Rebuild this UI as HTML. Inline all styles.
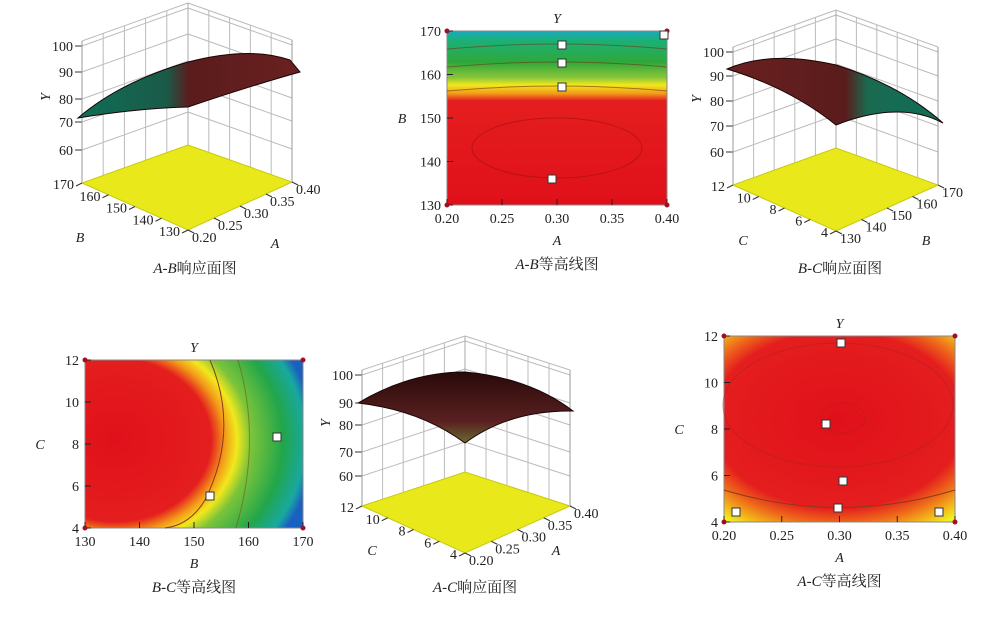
<!DOCTYPE html>
<html><head><meta charset="utf-8"><style>
html,body{margin:0;padding:0;background:#fff;}
svg text{font-family:"Liberation Serif","Noto Serif CJK SC",serif;fill:#222;}
</style></head><body>
<svg id="s" width="1000" height="613" viewBox="0 0 1000 613" xmlns="http://www.w3.org/2000/svg">
<defs>
<linearGradient id="g2" x1="0" y1="0" x2="0" y2="1">
<stop offset="0" stop-color="#1aa9c0"/><stop offset="0.05" stop-color="#1ab07a"/>
<stop offset="0.18" stop-color="#2fa83a"/><stop offset="0.27" stop-color="#8cc63a"/>
<stop offset="0.31" stop-color="#f2e81c"/><stop offset="0.36" stop-color="#f29a1a"/>
<stop offset="0.40" stop-color="#e41e1e"/><stop offset="1" stop-color="#e0101a"/>
</linearGradient>
<radialGradient id="g4" gradientUnits="userSpaceOnUse" cx="115" cy="440" r="200" gradientTransform="translate(115 440) scale(1 0.85) translate(-115 -440)">
<stop offset="0" stop-color="#e0101a"/><stop offset="0.48" stop-color="#e41e1e"/>
<stop offset="0.55" stop-color="#f39a1a"/><stop offset="0.61" stop-color="#f2e81c"/>
<stop offset="0.68" stop-color="#7cc43a"/><stop offset="0.84" stop-color="#22a64a"/>
<stop offset="0.95" stop-color="#18a8a0"/><stop offset="1" stop-color="#1a60c0"/>
</radialGradient>
<radialGradient id="g6" gradientUnits="userSpaceOnUse" cx="838" cy="420" r="180" gradientTransform="translate(838 420) scale(1 0.7) translate(-838 -420)">
<stop offset="0" stop-color="#e0101a"/><stop offset="0.7" stop-color="#e41e1e"/>
<stop offset="0.82" stop-color="#ee6a1a"/><stop offset="0.92" stop-color="#f3b41a"/>
<stop offset="1" stop-color="#eeee20"/>
</radialGradient>
<linearGradient id="s1" x1="0" y1="0" x2="1" y2="0">
<stop offset="0" stop-color="#0e6e58"/><stop offset="0.4" stop-color="#1a5a48"/><stop offset="0.5" stop-color="#5a1c1c"/><stop offset="1" stop-color="#6a2020"/>
</linearGradient>
<linearGradient id="s3" x1="0" y1="0" x2="1" y2="0">
<stop offset="0" stop-color="#6a2020"/><stop offset="0.55" stop-color="#5a1c1c"/><stop offset="0.65" stop-color="#1a6a50"/><stop offset="1" stop-color="#0e6e58"/>
</linearGradient>
<linearGradient id="s5" x1="0" y1="0" x2="0" y2="1">
<stop offset="0" stop-color="#2a0a0a"/><stop offset="0.7" stop-color="#5a2020"/><stop offset="1" stop-color="#6a6a30"/>
</linearGradient>
<clipPath id="c6"><rect x="724" y="336" width="231" height="186"/></clipPath>
</defs>
<g id="root"></g>
</svg>
<script>
var NS="http://www.w3.org/2000/svg",root=document.getElementById('root');
function el(t,a,txt){var e=document.createElementNS(NS,t);for(var k in a)e.setAttribute(k,a[k]);if(txt!=null)e.textContent=txt;root.appendChild(e);return e;}
function line(x1,y1,x2,y2,c,w){el('line',{x1:x1,y1:y1,x2:x2,y2:y2,stroke:c||'#bbb','stroke-width':w||1});}
function txt(x,y,s,o){o=o||{};var a={x:x,y:y,'font-size':o.fs||14,'text-anchor':o.a||'middle'};if(o.it)a['font-style']='italic';if(o.tr)a.transform=o.tr;el('text',a,s);}
function lerp(p,q,t){return [p[0]+(q[0]-p[0])*t,p[1]+(q[1]-p[1])*t];}
function box(Pl,Pf,Pr,Pb,H,zoffs,zlab,lt,rt,surf,sfill){
  var n=5;
  for(var i=0;i<=n;i++){var a=lerp(Pl,Pb,i/n);line(a[0],a[1],a[0],a[1]-H);var b=lerp(Pb,Pr,i/n);line(b[0],b[1],b[0],b[1]-H);}
  for(var j=0;j<zoffs.length;j++){var z=zoffs[j];line(Pl[0],Pl[1]-z,Pb[0],Pb[1]-z);line(Pb[0],Pb[1]-z,Pr[0],Pr[1]-z);
    line(Pl[0]-7,Pl[1]-z,Pl[0],Pl[1]-z,'#333');txt(Pl[0]-9,Pl[1]-z+5,zlab[j],{a:'end'});}
  line(Pl[0],Pl[1]-H,Pb[0],Pb[1]-H);line(Pb[0],Pb[1]-H,Pr[0],Pr[1]-H);
  line(Pl[0],Pl[1],Pl[0],Pl[1]-H,'#999');line(Pr[0],Pr[1],Pr[0],Pr[1]-H,'#999');line(Pf[0],Pf[1],Pf[0],Pb[1]-H,'#aaa');
  el('polygon',{points:[Pl,Pf,Pr,Pb].join(' '),fill:'#e8e81a',stroke:'#c8c810'});
  for(var i=0;i<lt.length;i++){var p=lerp(Pl,Pf,i/(lt.length-1));line(p[0],p[1],p[0]-6,p[1]+3,'#333');txt(p[0]-8,p[1]+6,lt[i],{a:'end'});}
  for(var i=0;i<rt.length;i++){var p=lerp(Pf,Pr,i/(rt.length-1));line(p[0],p[1],p[0]+6,p[1]+3,'#333');txt(p[0]+4,p[1]+12,rt[i],{a:'start'});}
  el('path',{d:surf,fill:sfill,stroke:'#1a0505','stroke-width':1});
  txt(Pl[0]-37,(Pl[1]-zoffs[2])+3,'Y',{it:1,tr:'rotate(-90 '+(Pl[0]-37)+' '+(Pl[1]-zoffs[2]-2)+')'});
}
function cap(x,y,a,b,rest){var t=el('text',{x:x,y:y,'font-size':15,'text-anchor':'middle'});
 var s1=document.createElementNS(NS,'tspan');s1.setAttribute('font-style','italic');s1.textContent=a+'-'+b;t.appendChild(s1);
 var s2=document.createElementNS(NS,'tspan');s2.textContent=rest;t.appendChild(s2);}
box([82,183],[188,230],[292,182],[188,145],142,[33,61,84,111,137],['60','70','80','90','100'],['170','160','150','140','130'],['0.20','0.25','0.30','0.35','0.40'],
 'M78,118 Q120,82 188,62 Q250,46 290,60 L300,72 Q250,86 188,107 Q140,108 78,118 Z','url(#s1)');
txt(80,242,'B',{it:1});txt(275,248,'A',{it:1});
cap(195,273,'A','B','响应面图');
box([733,185],[836,231],[938,185],[836,148],138,[33,59,84,109,133],['60','70','80','90','100'],['12','10','8','6','4'],['130','140','150','160','170'],
 'M727,69 Q770,50 836,65 Q900,85 943,123 Q900,100 836,125 Q790,88 727,69 Z','url(#s3)');
txt(743,245,'C',{it:1});txt(926,245,'B',{it:1});
cap(840,273,'B','C','响应面图');
box([362,506],[465,553],[570,506],[465,472],136,[30,54,81,103,131],['60','70','80','90','100'],['12','10','8','6','4'],['0.20','0.25','0.30','0.35','0.40'],
 'M358,403 Q410,372 465,372 Q530,378 573,411 Q510,410 465,443 Q420,410 358,403 Z','url(#s5)');
txt(372,555,'C',{it:1});txt(556,555,'A',{it:1});
cap(475,592,'A','C','响应面图');
function contour(x0,y0,x1,y1,fill,yt,xt,yl,xl,a,b){
  el('rect',{x:x0,y:y0,width:x1-x0,height:y1-y0,fill:fill,stroke:'#888'});
  for(var i=0;i<yt.length;i++){var y=y0+(y1-y0)*i/(yt.length-1);line(x0,y,x0+6,y,'#222');txt(x0-6,y+5,yt[i],{a:'end'});}
  for(var i=0;i<xt.length;i++){var x=x0+(x1-x0)*i/(xt.length-1);line(x,y1,x,y1-6,'#222');txt(x,y1+18,xt[i]);}
  [[x0,y0],[x1,y0],[x0,y1],[x1,y1]].forEach(function(p){el('circle',{cx:p[0],cy:p[1],r:2.5,fill:'#a01020'});});
  txt((x0+x1)/2,y0-8,'Y',{it:1});
  txt(x0-45,(y0+y1)/2+5,yl,{it:1});
  txt((x0+x1)/2,y1+40,xl,{it:1});
  cap((x0+x1)/2,y1+64,a,b,'等高线图');
}
function lab(x,y){el('rect',{x:x-4,y:y-4,width:8,height:8,fill:'#fff',stroke:'#333','stroke-width':1});}
contour(447,31,667,205,'url(#g2)',['170','160','150','140','130'],['0.20','0.25','0.30','0.35','0.40'],'B','A','A','B');
[45,63,87].forEach(function(c){el('path',{d:'M447,'+(c+4)+' Q557,'+(c-6)+' 667,'+(c+4),fill:'none',stroke:'#6a3a1a','stroke-width':1,opacity:0.6});});
el('ellipse',{cx:557,cy:148,rx:85,ry:30,fill:'none',stroke:'#a01010','stroke-width':1,opacity:0.6});
lab(562,45);lab(562,63);lab(562,87);lab(552,179);lab(664,35);
contour(85,360,303,528,'url(#g4)',['12','10','8','6','4'],['130','140','150','160','170'],'C','B','B','C');
el('path',{d:'M210,360 Q240,430 205,500 Q190,525 165,528',fill:'none',stroke:'#8a3a1a','stroke-width':1});
el('path',{d:'M238,360 Q262,440 236,528',fill:'none',stroke:'#6a5a1a','stroke-width':1,opacity:0.6});
lab(277,437);lab(210,496);
contour(724,336,955,522,'url(#g6)',['12','10','8','6','4'],['0.20','0.25','0.30','0.35','0.40'],'C','A','A','C');
var g=el('g',{'clip-path':'url(#c6)'});
el('ellipse',{cx:838,cy:405,rx:115,ry:62,fill:'none',stroke:'#b02020','stroke-width':1,opacity:0.5});
el('ellipse',{cx:843,cy:418,rx:22,ry:15,fill:'none',stroke:'#b02020','stroke-width':1,opacity:0.5});
el('path',{d:'M724,490 Q840,525 955,490',fill:'none',stroke:'#8a3a1a','stroke-width':1});
lab(841,343);lab(826,424);lab(843,481);lab(838,508);lab(736,512);lab(939,512);
</script>
</body></html>
